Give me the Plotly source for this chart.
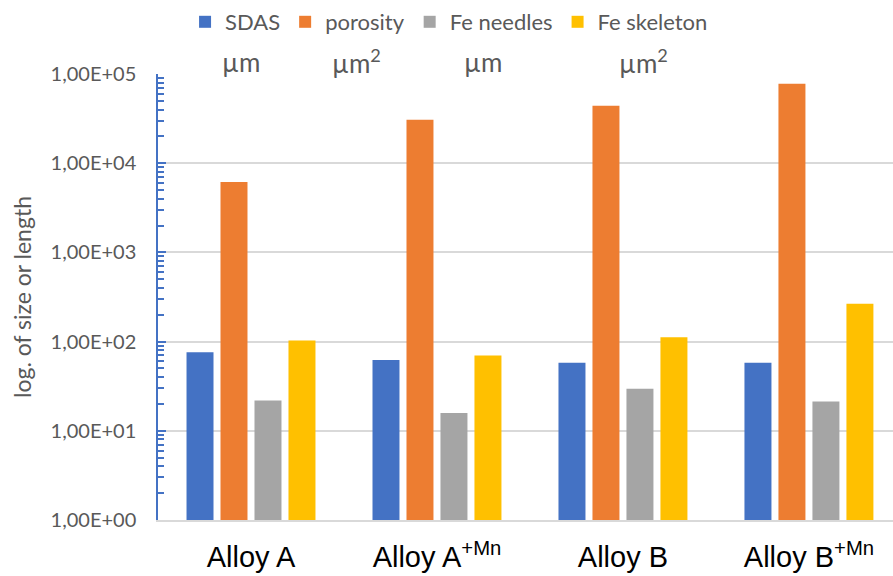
import plotly.graph_objects as go

categories = ["Alloy A", "Alloy A<sup>+Mn</sup>", "Alloy B", "Alloy B<sup>+Mn</sup>"]
series_names = ["SDAS", "porosity", "Fe needles", "Fe skeleton"]
sdas = [76, 62, 58, 58]
porosity = [6150, 30700, 44000, 77700]
fe_needles = [21.9, 15.8, 29.6, 21.3]
fe_skeleton = [103, 70, 112, 265]
colors = ["#4472C4", "#ED7D31", "#A5A5A5", "#FFC000"]

y_tickvals = [1, 10, 100, 1000, 10000, 100000]
y_ticktext = ["1,00E+00", "1,00E+01", "1,00E+02", "1,00E+03", "1,00E+04", "1,00E+05"]
unit_labels = ["µm", "µm<sup>2</sup>", "µm", "µm<sup>2</sup>"]
unit_xpos = [0.1136, 0.2707, 0.4415, 0.6605]

minor_vals = [m * 10 ** d for d in range(0, 5) for m in range(2, 10)]

xpos = list(range(len(categories)))
fig = go.Figure()
for name, vals, col in zip(series_names, [sdas, porosity, fe_needles, fe_skeleton], colors):
    fig.add_trace(go.Bar(x=xpos, y=vals, name=name, marker_color=col,
                         marker_line_width=0))

GRAY = "#595959"
fig.update_layout(
    width=893, height=576,
    margin=dict(l=158, r=0, t=74, b=56, autoexpand=False),
    paper_bgcolor="white", plot_bgcolor="white",
    barmode="group", bargap=0.269, bargroupgap=0.206,
    font=dict(family="Lato", size=20, color=GRAY),
    showlegend=True,
    legend=dict(orientation="h", x=0.396, xanchor="center", y=1.1166, yanchor="middle",
                font=dict(family="Lato", size=22, color=GRAY), itemwidth=30,
                bgcolor="rgba(0,0,0,0)", traceorder="normal"),
)
fig.update_xaxes(
    range=[-0.5, 3.452], tickmode="array", tickvals=xpos, ticktext=categories,
    showline=True, linecolor="#D9D9D9", linewidth=2, showgrid=False, zeroline=False,
    ticks="outside", ticklen=10, tickcolor="rgba(0,0,0,0)",
    tickfont=dict(family="Liberation Sans", size=29, color="black"),
)
fig.update_yaxes(
    type="log", range=[0, 5], tickmode="array", tickvals=y_tickvals, ticktext=y_ticktext,
    showline=True, linecolor="#4472C4", linewidth=1.5,
    ticks="inside", ticklen=8, tickcolor="#4472C4", tickwidth=1.5,
    minor=dict(tickmode="array", tickvals=minor_vals, ticks="inside", ticklen=6,
               tickcolor="#4472C4", tickwidth=1.5, showgrid=False),
    showgrid=True, gridcolor="#D9D9D9", gridwidth=1.5, zeroline=False,
    tickfont=dict(family="Lato", size=20, color=GRAY),
    ticklabelstandoff=16,
    title=dict(text="log. of size or length", font=dict(family="Lato", size=23, color=GRAY),
               standoff=12),
)
for txt, xp in zip(unit_labels, unit_xpos):
    fig.add_annotation(text=txt, x=xp, y=1.027, xref="paper", yref="paper",
                       xanchor="center", yanchor="middle", showarrow=False,
                       font=dict(family="Lato", size=26, color=GRAY))

fig.write_html("out.html", config={"displayModeBar": False},
               post_script="document.body.style.margin='0';")
